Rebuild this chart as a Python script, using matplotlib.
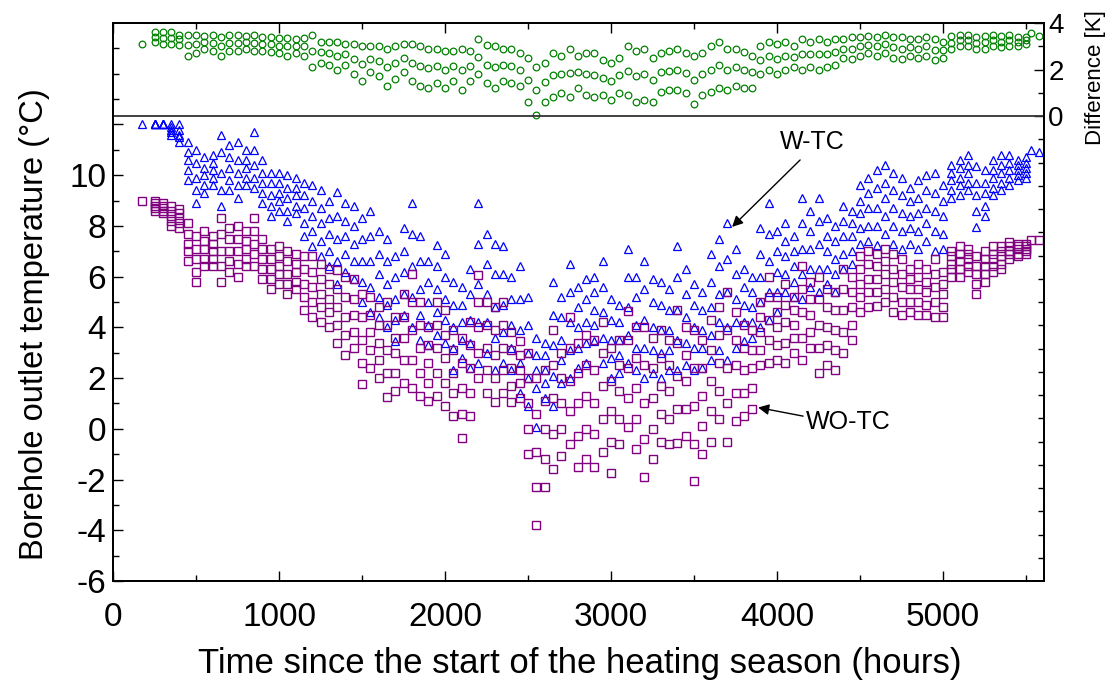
import matplotlib
matplotlib.use("Agg")
import matplotlib.pyplot as plt

plt.rcParams["font.family"] = ["Liberation Sans", "DejaVu Sans"]
plt.rcParams["axes.unicode_minus"] = False

# hours since start of heating season, one column every 50 h
hours = list(range(250, 5501, 50))

# W-TC outlet temperature (deg C), read per column: max .. min
wtc_max = [12.0, 12.0, 12.0, 12.0, 11.3, 11.0, 10.7, 10.8, 11.6, 11.2,
           11.3, 11.0, 11.7, 10.6, 10.1, 10.1, 10.0, 9.9, 9.7, 9.6,
           9.4, 9.0, 9.35, 8.9, 8.8, 8.3, 8.6, 7.8, 7.5, 6.8,
           7.9, 8.9, 7.6, 6.6, 7.25, 6.9, 5.8, 5.6, 6.3, 8.9,
           7.7, 7.3, 7.2, 6.0, 6.4, 5.2, 3.6, 3.4, 5.8, 5.2,
           6.5, 5.6, 5.9, 6.0, 6.6, 5.1, 4.9, 7.1, 6.0, 6.6,
           5.9, 5.8, 5.5, 7.2, 6.3, 5.7, 5.4, 6.9, 7.5, 8.1,
           7.1, 6.3, 6.0, 7.9, 8.9, 7.8, 8.1, 7.6, 9.1, 8.6,
           9.1, 8.3, 8.0, 8.8, 8.6, 9.6, 9.9, 10.2, 10.4, 10.1,
           9.9, 9.5, 9.8, 10.0, 10.1, 9.6, 10.4, 10.6, 10.8, 10.35,
           10.2, 10.6, 10.8, 10.8, 10.6, 10.7]
wtc_upper = [12.0, 12.0, 11.9, 11.8, 10.9, 10.5, 10.3, 10.5, 10.9, 10.7,
             10.6, 10.6, 11.0, 10.1, 9.7, 9.7, 9.5, 9.5, 9.2, 9.0,
             8.7, 8.3, 8.4, 8.2, 8.0, 7.5, 7.6, 6.9, 6.6, 6.0,
             7.0, 7.7, 6.6, 5.8, 6.4, 6.0, 4.9, 4.9, 5.3, 7.3,
             6.5, 6.1, 6.1, 5.1, 5.1, 4.1, 2.9, 2.9, 4.5, 4.4,
             5.4, 4.8, 5.1, 5.4, 5.6, 4.3, 4.2, 6.0, 5.2, 5.5,
             5.0, 4.9, 4.7, 6.0, 5.3, 4.9, 4.7, 5.8, 6.4, 6.7,
             6.1, 5.6, 5.4, 6.9, 7.7, 7.0, 7.4, 7.0, 8.1, 7.8,
             8.2, 7.6, 7.4, 8.2, 8.1, 9.0, 9.3, 9.5, 9.7, 9.4,
             9.2, 9.0, 9.1, 9.4, 9.3, 9.0, 10.1, 10.3, 10.4, 9.7,
             9.7, 10.2, 10.4, 10.5, 10.4, 10.5]
wtc_middle = [12.0, 12.0, 11.8, 11.6, 10.6, 9.9, 10.0, 10.2, 10.1, 10.3,
              10.1, 10.3, 10.4, 9.7, 9.2, 9.3, 9.1, 9.2, 8.7, 8.4,
              8.1, 7.7, 7.5, 7.6, 7.3, 6.6, 6.6, 6.1, 5.7, 5.1,
              6.2, 6.4, 5.5, 5.0, 5.5, 5.1, 4.0, 4.2, 4.3, 5.7,
              5.3, 4.8, 4.9, 4.1, 3.9, 3.0, 2.3, 2.3, 3.3, 3.5,
              4.2, 4.0, 4.2, 4.7, 4.6, 3.5, 3.5, 4.8, 4.1, 4.3,
              4.0, 3.9, 3.9, 4.7, 4.4, 4.0, 3.9, 4.8, 5.3, 5.4,
              5.1, 4.9, 4.8, 6.0, 6.6, 6.2, 6.8, 6.4, 7.1, 7.1,
              7.3, 7.0, 6.7, 7.6, 7.6, 8.5, 8.7, 8.7, 9.1, 8.7,
              8.5, 8.4, 8.5, 8.7, 8.6, 8.4, 9.8, 9.9, 10.1, 9.2,
              9.3, 9.9, 10.1, 10.2, 10.2, 10.3]
wtc_lower = [12.0, 12.0, 11.7, 11.5, 10.2, 9.4, 9.6, 9.9, 9.4, 9.8,
             9.6, 9.9, 9.9, 9.3, 8.8, 9.0, 8.6, 8.8, 8.1, 7.8,
             7.4, 7.0, 6.6, 6.9, 6.6, 5.8, 5.6, 5.2, 4.9, 4.3,
             5.3, 5.2, 4.5, 4.1, 4.6, 4.3, 3.2, 3.5, 3.4, 4.2,
             4.2, 3.6, 3.8, 3.2, 2.6, 2.0, 1.6, 1.8, 2.1, 2.7,
             3.1, 3.2, 3.4, 4.1, 3.6, 2.8, 2.9, 3.7, 3.2, 3.2,
             3.1, 3.0, 3.1, 3.5, 3.4, 3.2, 3.2, 3.7, 4.2, 4.0,
             4.2, 4.2, 4.2, 5.0, 5.4, 5.4, 6.1, 5.8, 6.1, 6.3,
             6.3, 6.3, 6.1, 6.9, 7.0, 7.9, 8.0, 8.0, 8.4, 8.0,
             7.8, 7.9, 7.8, 8.1, 7.8, 7.7, 9.4, 9.6, 9.7, 8.6,
             8.8, 9.5, 9.7, 9.9, 10.0, 10.1]
wtc_min = [12.0, 12.0, 11.6, 11.3, 9.8, 8.9, 9.3, 9.6, 8.8, 9.4,
           9.1, 9.6, 9.5, 8.9, 8.4, 8.6, 8.2, 8.5, 7.6, 7.2,
           6.8, 6.4, 5.7, 6.2, 5.9, 5.0, 4.6, 4.4, 4.0, 3.45,
           4.5, 4.0, 3.5, 3.3, 3.7, 3.4, 2.3, 2.8, 2.4, 2.6,
           3.0, 2.3, 2.6, 2.3, 1.4, 0.9, 0.06, 1.2, 0.9, 1.8,
           2.0, 2.4, 2.6, 3.45, 2.6, 2.0, 2.2, 2.6, 2.3, 2.0,
           2.2, 2.0, 2.3, 2.3, 2.5, 2.3, 2.4, 2.7, 3.1, 2.7,
           3.2, 3.45, 3.6, 4.0, 4.3, 4.6, 5.4, 5.2, 5.1, 5.6,
           5.4, 5.7, 5.4, 6.3, 6.5, 7.3, 7.4, 7.25, 7.7, 7.3,
           7.1, 7.3, 7.1, 7.4, 7.0, 7.1, 9.1, 9.2, 9.4, 7.95,
           8.4, 9.2, 9.4, 9.6, 9.8, 9.9]

# WO-TC outlet temperature (deg C)
wotc_max = [9.0, 8.9, 8.8, 8.65, 8.1, 7.6, 7.8, 7.6, 8.3, 7.9,
            8.0, 7.8, 8.3, 7.5, 7.1, 7.2, 7.0, 6.9, 6.8, 6.8,
            6.5, 6.3, 6.25, 6.0, 5.9, 5.3, 5.2, 4.8, 5.0, 4.4,
            5.3, 6.1, 5.0, 4.0, 5.0, 4.7, 3.9, 3.6, 4.2, 6.05,
            5.0, 4.8, 5.0, 3.8, 3.45, 3.0, 2.0, 2.3, 3.9, 3.0,
            4.4, 3.4, 3.7, 3.5, 4.2, 3.2, 3.5, 4.65, 4.0, 4.0,
            3.6, 3.9, 3.5, 4.7, 4.0, 3.9, 3.5, 4.3, 4.8, 5.4,
            4.6, 4.1, 3.9, 5.0, 6.0, 5.2, 5.7, 5.2, 6.4, 5.8,
            6.0, 5.5, 5.4, 6.3, 6.0, 6.8, 7.0, 6.9, 7.1, 6.9,
            6.7, 6.3, 6.5, 6.3, 6.7, 6.2, 7.0, 7.2, 7.1, 6.8,
            7.0, 7.2, 7.2, 7.35, 7.3, 7.3]
wotc_upper = [8.9, 8.8, 8.6, 8.5, 7.7, 7.1, 7.4, 7.3, 7.7, 7.5,
              7.5, 7.4, 7.8, 7.1, 6.7, 6.8, 6.6, 6.5, 6.3, 6.2,
              5.9, 5.7, 5.5, 5.2, 5.1, 4.4, 4.5, 4.1, 4.1, 3.6,
              4.4, 5.0, 4.1, 3.3, 4.1, 3.7, 3.1, 2.6, 3.3, 5.0,
              4.1, 3.9, 4.1, 3.1, 2.9, 2.0, 0.6, 1.1, 2.5, 2.0,
              3.2, 2.2, 2.5, 2.3, 3.0, 1.9, 2.5, 3.5, 2.8, 2.5,
              2.4, 2.8, 2.5, 3.4, 2.9, 2.4, 2.4, 3.1, 3.7, 3.9,
              3.5, 3.2, 3.1, 4.4, 5.2, 4.6, 4.9, 4.7, 5.5, 5.1,
              5.1, 4.8, 4.7, 5.5, 5.4, 6.3, 6.5, 6.4, 6.6, 6.3,
              6.1, 5.9, 6.0, 5.8, 6.1, 5.7, 6.8, 6.9, 6.9, 6.4,
              6.7, 6.9, 7.0, 7.2, 7.2, 7.2]
wotc_middle = [8.8, 8.7, 8.4, 8.3, 7.3, 6.7, 7.1, 7.0, 7.0, 7.0,
               7.0, 7.1, 7.3, 6.7, 6.3, 6.4, 6.1, 6.2, 5.7, 5.6,
               5.3, 5.1, 4.8, 4.4, 4.5, 3.5, 3.8, 3.4, 3.1, 3.0,
               3.6, 3.9, 3.2, 2.6, 3.2, 2.8, 2.2, 1.6, 2.4, 4.0,
               3.2, 2.9, 3.2, 2.4, 2.3, 1.0, -0.9, 0.0, 1.2, 1.0,
               1.9, 1.0, 1.3, 1.0, 1.7, 0.7, 1.5, 2.4, 1.6, 1.0,
               1.2, 1.7, 1.5, 2.1, 1.9, 0.9, 1.3, 1.9, 2.6, 2.4,
               2.5, 2.3, 2.4, 3.8, 4.3, 4.0, 4.2, 4.1, 4.6, 4.5,
               4.1, 4.0, 3.9, 4.7, 4.8, 5.7, 5.9, 5.9, 6.1, 5.8,
               5.6, 5.5, 5.5, 5.4, 5.6, 5.3, 6.5, 6.6, 6.7, 6.1,
               6.4, 6.7, 6.8, 7.0, 7.1, 7.1]
wotc_lower = [8.7, 8.6, 8.2, 8.1, 7.0, 6.2, 6.7, 6.7, 6.4, 6.6,
              6.5, 6.7, 6.9, 6.3, 5.9, 6.1, 5.7, 5.8, 5.2, 5.0,
              4.8, 4.6, 4.1, 3.7, 3.8, 2.6, 3.1, 2.7, 2.2, 2.2,
              2.7, 2.7, 2.2, 1.8, 2.2, 1.8, 1.4, 0.6, 1.4, 3.0,
              2.3, 2.0, 2.3, 1.7, 1.8, 0.0, -2.3, -1.2, -0.2, 0.0,
              0.7, -0.3, 0.0, -0.2, 0.4, -0.5, 0.4, 1.2, 0.4, -0.4,
              0.0, 0.6, 0.4, 0.8, 0.8, -0.6, 0.1, 0.7, 1.5, 1.0,
              1.4, 1.4, 1.6, 3.1, 3.5, 3.3, 3.4, 3.6, 3.6, 3.8,
              3.2, 3.3, 3.1, 3.8, 4.1, 5.2, 5.4, 5.4, 5.5, 5.2,
              5.0, 5.0, 5.0, 4.9, 5.0, 4.8, 6.3, 6.3, 6.4, 5.7,
              6.1, 6.4, 6.5, 6.9, 6.9, 7.0]
wotc_min = [8.6, 8.5, 8.0, 7.9, 6.6, 5.8, 6.4, 6.4, 5.8, 6.2,
            6.0, 6.4, 6.4, 5.9, 5.5, 5.7, 5.3, 5.5, 4.7, 4.4,
            4.2, 4.0, 3.4, 2.9, 3.2, 1.75, 2.4, 2.0, 1.26, 1.5,
            1.8, 1.6, 1.3, 1.1, 1.3, 0.9, 0.5, -0.35, 0.5, 2.0,
            1.4, 1.05, 1.4, 1.05, 1.2, -1.0, -3.8, -2.3, -1.6, -1.06,
            -0.6, -1.5, -1.2, -1.5, -0.9, -1.75, -0.6, 0.06, -0.8, -1.9,
            -1.2, -0.5, -0.6, -0.55, -0.3, -2.05, -1.0, -0.5, 0.4, -0.5,
            0.3, 0.5, 0.8, 2.5, 2.6, 2.7, 2.6, 3.0, 2.7, 3.2,
            2.2, 2.5, 2.3, 3.0, 3.5, 4.6, 4.8, 4.85, 5.0, 4.6,
            4.5, 4.6, 4.5, 4.5, 4.4, 4.4, 6.0, 6.0, 6.2, 5.3,
            5.8, 6.2, 6.3, 6.7, 6.8, 6.9]

# temperature difference W-TC minus WO-TC (K)
diff_max = [3.6, 3.6, 3.6, 3.5, 3.5, 3.5, 3.45, 3.5, 3.4, 3.5,
            3.5, 3.45, 3.5, 3.4, 3.4, 3.36, 3.35, 3.3, 3.35, 3.5,
            3.2, 3.2, 3.2, 3.1, 3.1, 3.0, 3.0, 3.0, 2.9, 3.0,
            3.1, 3.1, 3.0, 2.9, 2.9, 2.8, 2.8, 2.9, 2.8, 3.3,
            3.05, 3.0, 2.9, 2.9, 2.7, 2.5, 2.1, 2.3, 2.7, 2.6,
            2.9, 2.6, 2.7, 2.7, 2.4, 2.3, 2.5, 3.0, 2.8, 2.9,
            2.5, 2.7, 2.8, 2.9, 2.7, 2.6, 2.7, 3.0, 3.2, 2.9,
            2.9, 2.75, 2.6, 3.0, 3.2, 3.1, 3.2, 3.0, 3.3, 3.2,
            3.3, 3.2, 3.3, 3.3, 3.4, 3.4, 3.43, 3.4, 3.5, 3.4,
            3.4, 3.3, 3.3, 3.4, 3.3, 3.2, 3.45, 3.5, 3.5, 3.4,
            3.45, 3.5, 3.45, 3.5, 3.4, 3.4]
diff_middle = [3.4, 3.35, 3.35, 3.3, 3.05, 3.1, 3.2, 3.15, 3.0, 3.15,
               3.15, 3.2, 3.15, 3.1, 3.1, 3.0, 3.0, 3.0, 3.0, 2.8,
               2.75, 2.7, 2.6, 2.65, 2.45, 2.25, 2.45, 2.35, 2.1, 2.3,
               2.5, 2.3, 2.15, 2.05, 2.15, 2.0, 2.15, 2.0, 2.15, 2.55,
               2.2, 2.1, 2.2, 2.15, 2.0, 1.55, 1.1, 1.45, 1.75, 1.8,
               1.85, 1.9, 1.8, 1.75, 1.65, 1.5, 1.75, 1.95, 1.7, 1.8,
               1.55, 1.9, 1.95, 2.0, 1.85, 1.55, 1.8, 2.0, 2.2, 2.0,
               2.1, 2.0, 1.9, 2.4, 2.6, 2.45, 2.6, 2.55, 2.65, 2.65,
               2.65, 2.65, 2.75, 2.9, 2.9, 3.0, 3.05, 3.0, 3.1, 2.95,
               2.9, 2.95, 2.9, 3.0, 2.85, 2.85, 3.15, 3.25, 3.25, 3.15,
               3.2, 3.25, 3.2, 3.25, 3.2, 3.25]
diff_min = [3.2, 3.1, 3.1, 3.05, 2.6, 2.7, 2.9, 2.8, 2.6, 2.8,
            2.8, 2.9, 2.8, 2.8, 2.75, 2.7, 2.6, 2.7, 2.6, 2.1,
            2.3, 2.2, 2.0, 2.2, 1.8, 1.5, 1.9, 1.7, 1.3, 1.6,
            1.9, 1.5, 1.3, 1.2, 1.4, 1.2, 1.5, 1.1, 1.5, 1.8,
            1.4, 1.2, 1.5, 1.4, 1.3, 0.6, 0.05, 0.6, 0.8, 1.0,
            0.8, 1.2, 0.9, 0.8, 0.9, 0.67, 1.0, 0.9, 0.6, 0.7,
            0.6, 1.05, 1.1, 1.1, 1.0, 0.5, 0.9, 1.05, 1.2, 1.1,
            1.3, 1.2, 1.2, 1.8, 2.0, 1.8, 2.0, 2.1, 2.0, 2.1,
            2.0, 2.1, 2.2, 2.5, 2.45, 2.6, 2.7, 2.6, 2.7, 2.5,
            2.45, 2.6, 2.5, 2.6, 2.4, 2.5, 2.9, 3.0, 3.0, 2.9,
            2.9, 3.0, 2.95, 3.0, 3.0, 3.1]

# isolated first and last points
extra_hours = [175, 5530, 5578]
extra_wtc = [12.0, 11.0, 10.9]
extra_wotc = [8.97, 7.45, 7.45]
extra_diff = [3.08, 3.55, 3.45]

BLUE = "#0000ff"
PURPLE = "#800080"
GREEN = "#008000"

fig = plt.figure(figsize=(11.12, 6.89), dpi=100)
ax = fig.add_axes([113 / 1112, 108 / 689, 931 / 1112, 558 / 689])

tri = dict(ls="none", marker="^", ms=6, mfc="none", mec=BLUE, mew=0.9)
sq = dict(ls="none", marker="s", ms=5.6, mfc="none", mec=PURPLE, mew=1.0)
circ = dict(ls="none", marker="o", ms=4.8, mfc="none", mec=GREEN, mew=0.9)

for vals in [wtc_max, wtc_upper, wtc_middle, wtc_lower, wtc_min]:
    ax.plot(hours, vals, **tri)
ax.plot(extra_hours, extra_wtc, **tri)

for vals in [wotc_max, wotc_upper, wotc_middle, wotc_lower, wotc_min]:
    ax.plot(hours, vals, **sq)
ax.plot(extra_hours, extra_wotc, **sq)

ax2 = ax.twinx()
for vals in [diff_max, diff_middle, diff_min]:
    ax2.plot(hours, vals, **circ)
ax2.plot(extra_hours, extra_diff, **circ)
ax2.axhline(0, color="#333333", lw=1.3)

ax.set_xlim(0, 5608)
ax.set_ylim(-6, 16)
ax2.set_ylim(-20, 4)

ax.set_xticks(range(0, 5001, 1000))
ax.set_xticks(range(500, 5600, 1000), minor=True)
temp_ticks = list(range(-6, 13, 2))
ax.set_yticks(temp_ticks)
ax.set_yticklabels([str(v) if v <= 10 else "" for v in temp_ticks])
ax.set_yticks([-5, -3, -1, 1, 3, 5, 7, 9, 11, 13, 14, 15], minor=True)
ax.tick_params(axis="x", which="both", direction="in", top=True, labelsize=24, pad=15)
ax.tick_params(axis="y", which="both", direction="in", left=True, right=False,
               labelsize=24, pad=5)
ax.tick_params(which="major", length=7, width=1)
ax.tick_params(which="minor", length=4, width=1)

ax2.set_yticks([0, 2, 4])
ax2.set_yticks(list(range(-19, 0)) + [1, 3], minor=True)
ax2.tick_params(axis="y", which="both", direction="in", labelsize=20, pad=3, width=1)
ax2.tick_params(axis="y", which="major", length=7)
ax2.tick_params(axis="y", which="minor", length=4)

for a in (ax, ax2):
    for s in a.spines.values():
        s.set_linewidth(1.3)
        s.set_color("black")

arrow = dict(arrowstyle="-|>", color="black", lw=1.0, mutation_scale=16,
             shrinkA=0, shrinkB=0)
ax.annotate("", xy=(3729, 7.96), xytext=(4139, 10.6), arrowprops=arrow)
ax.text(4211, 11.3, "W-TC", fontsize=18, ha="center", va="center")
ax.annotate("", xy=(3886, 0.84), xytext=(4157, 0.5), arrowprops=arrow)
ax.text(4172, 0.27, "WO-TC", fontsize=18, ha="left", va="center")

fig.text(580 / 1112, 1 - 663 / 689, "Time since the start of the heating season (hours)",
         ha="center", va="center", fontsize=25)
fig.text(35 / 1112, 1 - 324 / 689, "Borehole outlet temperature (°C)",
         rotation=90, ha="center", va="center", fontsize=23.5)
fig.text(1096 / 1112, 1 - 78 / 689, "Difference [K]",
         rotation=90, ha="center", va="center", fontsize=16)

fig.savefig("out.png", dpi=100)
